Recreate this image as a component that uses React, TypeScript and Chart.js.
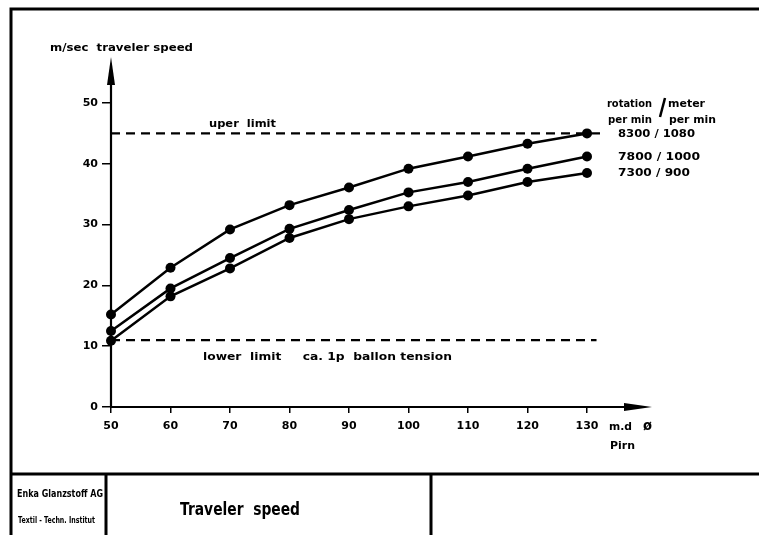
import React, { useEffect, useRef } from "react";
import { Chart, registerables } from "chart.js";

Chart.register(...registerables);

const pirnDiameters = [50, 60, 70, 80, 90, 100, 110, 120, 130];
const speed8300 = [15.2, 22.9, 29.2, 33.2, 36.1, 39.2, 41.2, 43.3, 45.0];
const speed7800 = [12.5, 19.5, 24.5, 29.3, 32.4, 35.3, 37.0, 39.2, 41.2];
const speed7300 = [10.9, 18.2, 22.8, 27.8, 30.9, 33.0, 34.8, 37.0, 38.5];
const upperLimit = 45;
const lowerLimit = 11;
const upperLimitRange = [50, 132.2];
const lowerLimitRange = [50, 131.6];
const seriesLabels = ["8300 / 1080", "7800 / 1000", "7300 / 900"];

const FONT = '"DejaVu Sans", sans-serif';

function fitText(ctx: CanvasRenderingContext2D, text: string, x: number, y: number, w: number, size: number, bold = true) {
  ctx.save();
  ctx.font = `${bold ? "bold " : ""}${size}px ${FONT}`;
  ctx.textAlign = "left";
  ctx.textBaseline = "middle";
  ctx.fillStyle = "#000";
  const m = ctx.measureText(text).width;
  ctx.translate(x, y);
  ctx.scale(w / m, 1);
  ctx.fillText(text, 0, 0);
  ctx.restore();
}

const decorPlugin = {
  id: "decor",
  afterDraw(chart: any) {
    const ctx: CanvasRenderingContext2D = chart.ctx;
    const xs = chart.scales.x;
    const ys = chart.scales.y;
    const x0 = xs.getPixelForValue(50);
    const y0 = ys.getPixelForValue(0);
    ctx.save();
    ctx.strokeStyle = "#000";
    ctx.fillStyle = "#000";
    // frame
    ctx.lineWidth = 3;
    ctx.beginPath();
    ctx.moveTo(11, 535);
    ctx.lineTo(11, 9);
    ctx.lineTo(759, 9);
    ctx.moveTo(11, 474);
    ctx.lineTo(759, 474);
    ctx.moveTo(106, 474);
    ctx.lineTo(106, 535);
    ctx.moveTo(431, 474);
    ctx.lineTo(431, 535);
    ctx.stroke();
    // axes
    ctx.lineWidth = 2.2;
    ctx.beginPath();
    ctx.moveTo(x0, y0);
    ctx.lineTo(x0, 80);
    ctx.moveTo(x0, y0);
    ctx.lineTo(628, y0);
    ctx.stroke();
    // arrowheads
    ctx.beginPath();
    ctx.moveTo(x0, 57);
    ctx.lineTo(x0 - 4, 85);
    ctx.lineTo(x0 + 4, 85);
    ctx.closePath();
    ctx.fill();
    ctx.beginPath();
    ctx.moveTo(652, y0);
    ctx.lineTo(624, y0 - 4);
    ctx.lineTo(624, y0 + 4);
    ctx.closePath();
    ctx.fill();
    // legend slash
    ctx.lineWidth = 2.5;
    ctx.beginPath();
    ctx.moveTo(665, 98);
    ctx.lineTo(660, 117);
    ctx.stroke();
    ctx.restore();

    // texts
    fitText(ctx, "m/sec  traveler speed", 50, 48, 143, 11);
    fitText(ctx, "uper  limit", 209, 124, 67, 11);
    fitText(ctx, "lower  limit     ca. 1p  ballon tension", 203, 357, 249, 11);
    fitText(ctx, "rotation", 607, 104, 45, 10);
    fitText(ctx, "meter", 668, 104, 37, 10);
    fitText(ctx, "per min", 608, 120, 44, 10);
    fitText(ctx, "per min", 669, 120, 47, 10);
    const legY = [134, 157, 173];
    const legW = [77, 82, 72];
    seriesLabels.forEach((t, i) => fitText(ctx, t, 618, legY[i], legW[i], 11));
    fitText(ctx, "m.d", 609, 427, 23, 10);
    fitText(ctx, "\u00F8", 643, 426, 9, 14);
    fitText(ctx, "Pirn", 610, 446, 25, 11);
    fitText(ctx, "Enka Glanzstoff AG", 17, 494, 86, 11);
    fitText(ctx, "Textil - Techn. Institut", 18, 521, 77, 8);
    fitText(ctx, "Traveler  speed", 180, 511, 120, 17);
  },
};

export default function App() {
  const ref = useRef<HTMLCanvasElement>(null);
  useEffect(() => {
    if (!ref.current) return;
    const mk = (vals: number[]) => pirnDiameters.map((x, i) => ({ x, y: vals[i] }));
    const lineDs = (vals: number[], label: string) => ({
      label,
      data: mk(vals),
      borderColor: "#000",
      backgroundColor: "#000",
      borderWidth: 2.5,
      pointRadius: 5,
      pointBackgroundColor: "#000",
      pointBorderWidth: 0,
      tension: 0,
      clip: false as any,
    });
    const limitDs = (y: number, range: number[], label: string) => ({
      label,
      data: range.map((x) => ({ x, y })),
      borderColor: "#000",
      borderWidth: 2.2,
      borderDash: [9, 6],
      pointRadius: 0,
      tension: 0,
      clip: false as any,
    });
    const chart = new Chart(ref.current, {
      type: "line",
      data: {
        datasets: [
          limitDs(upperLimit, upperLimitRange, "upper limit"),
          limitDs(lowerLimit, lowerLimitRange, "lower limit"),
          lineDs(speed8300, seriesLabels[0]),
          lineDs(speed7800, seriesLabels[1]),
          lineDs(speed7300, seriesLabels[2]),
        ],
      },
      options: {
        responsive: false,
        animation: false,
        layout: { padding: { left: 11, right: 172, top: 103, bottom: 98 } },
        plugins: { legend: { display: false }, tooltip: { enabled: false } },
        scales: {
          x: {
            type: "linear",
            min: 50,
            max: 130,
            afterFit: (s: any) => {
              s.height = 30;
            },
            border: { display: false },
            grid: { drawOnChartArea: false, drawTicks: true, tickLength: 6, color: "#000", lineWidth: 1.5 },
            ticks: { stepSize: 10, color: "#000", padding: 7, font: { family: FONT, weight: "bold", size: 11 }, maxRotation: 0 },
          },
          y: {
            type: "linear",
            min: 0,
            max: 50,
            afterFit: (s: any) => {
              s.width = 100;
            },
            border: { display: false },
            grid: { drawOnChartArea: false, drawTicks: true, tickLength: 9, color: "#000", lineWidth: 1.5 },
            ticks: { stepSize: 10, color: "#000", padding: 4, font: { family: FONT, weight: "bold", size: 11 } },
          },
        },
      },
      plugins: [decorPlugin],
    });
    return () => chart.destroy();
  }, []);
  return (
    <div style={{ position: "fixed", left: 0, top: 0, width: 759, height: 535, background: "#fff" }}>
      <canvas ref={ref} width={759} height={535} style={{ display: "block" }} />
    </div>
  );
}
